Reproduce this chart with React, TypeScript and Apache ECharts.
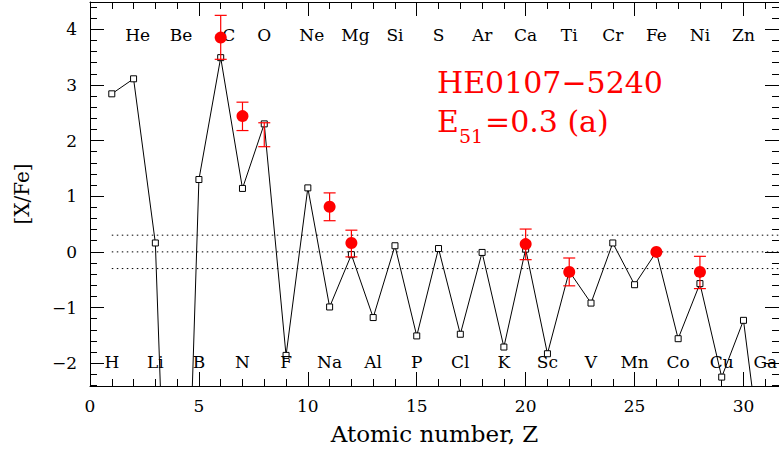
import React, { useEffect, useRef } from "react";
import * as echarts from "echarts";

// ---- data ----
const elements = ["H","He","Li","Be","B","C","N","O","F","Ne","Na","Mg","Al","Si","P","S","Cl","Ar","K","Ca","Sc","Ti","V","Cr","Mn","Fe","Co","Ni","Cu","Zn","Ga"];
const atomicNumbers = [1,2,3,4,5,6,7,8,9,10,11,12,13,14,15,16,17,18,19,20,21,22,23,24,25,26,27,28,29,30,31];
const modelValues = [2.84,3.11,0.16,-11.0,1.30,3.49,1.14,2.30,-1.86,1.15,-0.99,-0.05,-1.18,0.11,-1.51,0.06,-1.48,-0.01,-1.71,0.05,-1.83,-0.35,-0.92,0.16,-0.59,0.0,-1.56,-0.57,-2.25,-1.23,-4.3];

const obsZ = [6,7,11,12,20,22,26,28];
const obsValues = [3.85,2.44,0.81,0.16,0.14,-0.36,0.0,-0.36];

const errZ = [6,7,8,11,12,20,22,28];
const errLow = [3.46,2.18,1.89,0.56,-0.09,-0.14,-0.61,-0.66];
const errHigh = [4.25,2.69,2.32,1.06,0.39,0.41,-0.11,-0.08];

const dottedLevels = [0.3, 0, -0.3];
const dottedStartZ = 1;

const xMajorTicks = [0,5,10,15,20,25,30];
const yMajorTicks = [-2,-1,0,1,2,3,4];

const X_MIN = 0, X_MAX = 31.63;
const Y_MIN = -2.41, Y_MAX = 4.49;

const xMinorTicks: number[] = [];
for (let v = 1; v <= 31; v++) if (v % 5 !== 0) xMinorTicks.push(v);
const yMinorTicks: number[] = [];
for (let k = -12; k <= 22; k++) if (k % 5 !== 0) yMinorTicks.push(Math.round(k * 0.2 * 10) / 10);

const FONT = "'DejaVu Serif', serif";
const RED = "#ff0000";
// small horizontal nudges of some element labels (pixels), as in the original figure
const labelNudge: Record<string, number> = { He: 4, Be: 4, C: 8, Ne: 4, Mg: 4 };

const fmt = (v: number) => (v < 0 ? "\u2212" + Math.abs(v) : String(v));

export default function App() {
  const ref = useRef<HTMLDivElement>(null);
  useEffect(() => {
    if (!ref.current) return;
    const chart = echarts.init(ref.current, undefined, { renderer: "svg" });

    const line = { show: true, onZero: false, lineStyle: { color: "#000", width: 1 } };
    const noLine = { show: false, onZero: false };
    const mkX = (pos: string, major: boolean, labels: boolean, extra: any = {}) => ({
      type: "value", position: pos, min: X_MIN, max: X_MAX,
      axisLine: major ? line : noLine,
      axisTick: { show: true, inside: true, length: major ? 14 : 7, customValues: major ? xMajorTicks : xMinorTicks, lineStyle: { color: "#000", width: 1 } },
      axisLabel: labels ? { show: true, customValues: xMajorTicks, fontFamily: FONT, fontSize: 17, color: "#000", margin: 11, formatter: fmt } : { show: false },
      splitLine: { show: false }, minorTick: { show: false },
      ...extra,
    });
    const mkY = (pos: string, major: boolean, labels: boolean, extra: any = {}) => ({
      type: "value", position: pos, min: Y_MIN, max: Y_MAX,
      axisLine: major ? line : noLine,
      axisTick: { show: true, inside: true, length: major ? 14 : 7, customValues: major ? yMajorTicks : yMinorTicks, lineStyle: { color: "#000", width: 1 } },
      axisLabel: labels ? { show: true, customValues: yMajorTicks, fontFamily: FONT, fontSize: 17, color: "#000", margin: 13, formatter: fmt } : { show: false },
      splitLine: { show: false }, minorTick: { show: false },
      ...extra,
    });

    const series: any[] = [];
    dottedLevels.forEach((lv) => {
      series.push({
        type: "line", data: [[dottedStartZ, lv], [X_MAX, lv]], symbol: "none", silent: true, z: 1,
        lineStyle: { color: "#000", width: 1, type: [1.5, 3.5] },
      });
    });
    series.push({
      type: "line", z: 2,
      data: atomicNumbers.map((z, i) => [z, modelValues[i]]),
      symbol: "rect", symbolSize: 6, showAllSymbol: true, clip: true,
      lineStyle: { color: "#000", width: 1 },
      itemStyle: { color: "#fff", borderColor: "#000", borderWidth: 1, opacity: 1 },
    });
    series.push({
      type: "scatter", z: 3, symbolSize: 0,
      itemStyle: { opacity: 1 },
      data: atomicNumbers.map((z, i) => ({
        value: [z, i % 2 === 1 ? 3.9 : -1.97],
        name: elements[i],
        label: { offset: [labelNudge[elements[i]] || 0, 0] },
      })),
      label: { show: true, position: "inside", formatter: "{b}", fontFamily: FONT, fontSize: 17, color: "#000", opacity: 1 },
      silent: true,
    });
    series.push({
      type: "custom", z: 4,
      data: errZ.map((z, i) => [z, errLow[i], errHigh[i]]),
      renderItem: (_p: any, api: any) => {
        const x = api.value(0);
        const lo = api.coord([x, api.value(1)]);
        const hi = api.coord([x, api.value(2)]);
        const w = 6;
        const st = { stroke: RED, lineWidth: 1.2 };
        return {
          type: "group",
          children: [
            { type: "line", shape: { x1: lo[0], y1: lo[1], x2: hi[0], y2: hi[1] }, style: st },
            { type: "line", shape: { x1: lo[0] - w, y1: lo[1], x2: lo[0] + w, y2: lo[1] }, style: st },
            { type: "line", shape: { x1: hi[0] - w, y1: hi[1], x2: hi[0] + w, y2: hi[1] }, style: st },
          ],
        };
      },
    });
    series.push({
      type: "scatter", z: 5, symbol: "circle", symbolSize: 12,
      data: obsZ.map((z, i) => [z, obsValues[i]]),
      itemStyle: { color: RED, opacity: 1 },
    });

    chart.setOption({
      animation: false,
      textStyle: { fontFamily: FONT },
      grid: { left: 90, right: 0, top: 2, bottom: 65, containLabel: false },
      xAxis: [
        mkX("bottom", true, true, {
          name: "Atomic number, Z", nameLocation: "middle", nameGap: 36,
          nameTextStyle: { fontFamily: FONT, fontSize: 23, color: "#000" },
        }),
        mkX("bottom", false, false),
        mkX("top", true, false),
        mkX("top", false, false),
      ],
      yAxis: [
        mkY("left", true, true, {
          name: "[X/Fe]", nameLocation: "middle", nameGap: 58, nameRotate: 90,
          nameTextStyle: { fontFamily: FONT, fontSize: 20, color: "#000" },
        }),
        mkY("left", false, false),
        mkY("right", true, false),
        mkY("right", false, false),
      ],
      series,
      graphic: [
        { type: "text", left: 437, top: 67, style: { text: "HE0107\u22125240", fontFamily: FONT, fontSize: 30, fill: RED } },
        { type: "text", left: 437, top: 106, style: { text: "E", fontFamily: FONT, fontSize: 30, fill: RED } },
        { type: "text", left: 459, top: 126, style: { text: "51", fontFamily: FONT, fontSize: 19, fill: RED } },
        { type: "text", left: 485, top: 106, style: { text: "=0.3 (a)", fontFamily: FONT, fontSize: 30, fill: RED } },
      ],
    });
    return () => chart.dispose();
  }, []);
  return <div ref={ref} style={{ position: "fixed", left: 0, top: 0, width: 779, height: 451, background: "#fff" }} />;
}
